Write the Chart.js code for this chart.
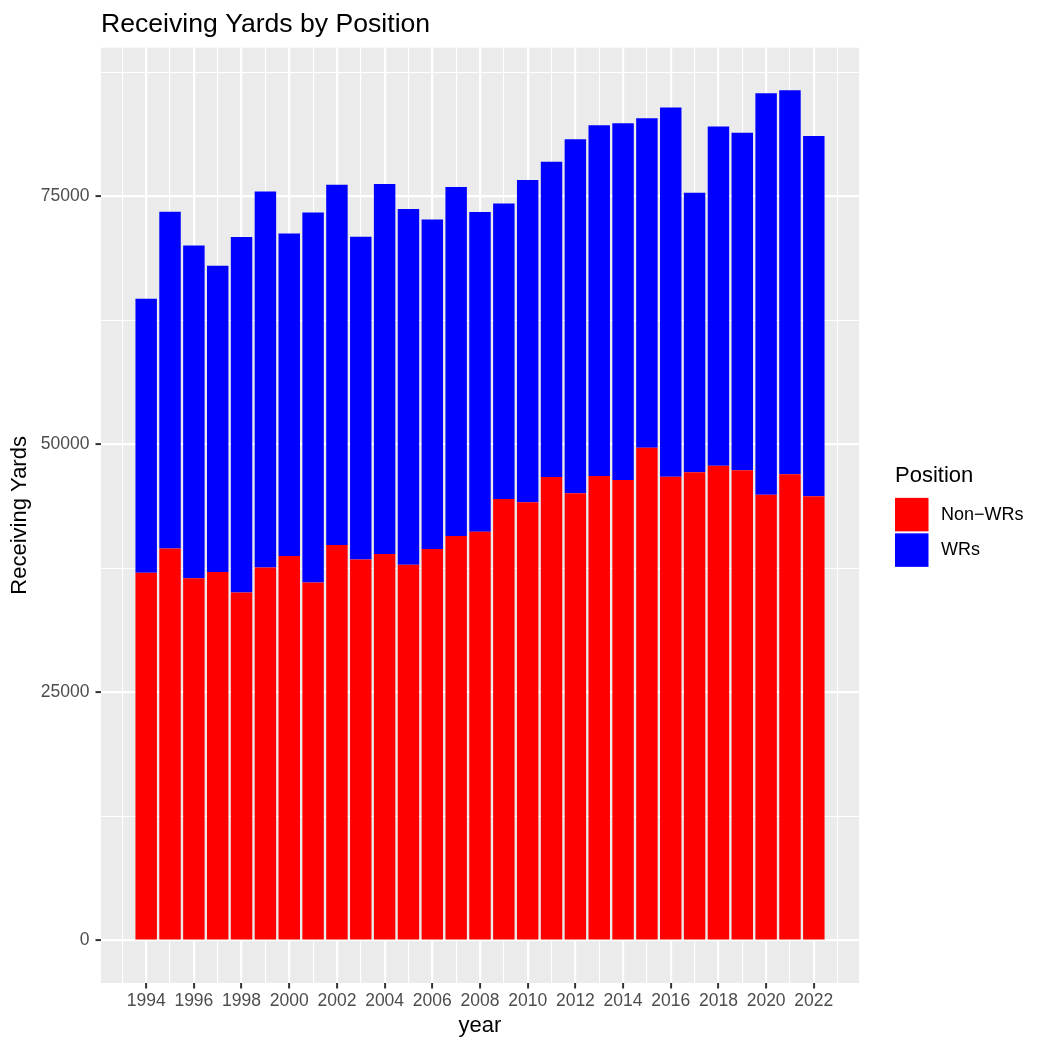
<!DOCTYPE html>
<html>
<head>
<meta charset="utf-8">
<title>Receiving Yards by Position</title>
<script src="https://cdn.jsdelivr.net/npm/chart.js@4.4.1/dist/chart.umd.min.js"></script>
<style>
    html, body { margin: 0; padding: 0; background: #FFFFFF; }
    #wrap { width: 1050px; height: 1050px; }
</style>
</head>
<body>
<div id="wrap"><canvas id="chart" width="1050" height="1050"></canvas></div>
<script>
/* Receiving yards by position, stacked per season (ggplot look) */

var YEARS = [1994, 1995, 1996, 1997, 1998, 1999, 2000, 2001, 2002, 2003,
             2004, 2005, 2006, 2007, 2008, 2009, 2010, 2011, 2012, 2013,
             2014, 2015, 2016, 2017, 2018, 2019, 2020, 2021, 2022];

var NON_WR_YARDS = [37060, 39520, 36500, 37130, 35080, 37600, 38750, 36090, 39860, 38410,
                    38950, 37870, 39450, 40760, 41200, 44500, 44160, 46720, 45070, 46820,
                    46410, 49670, 46750, 47190, 47860, 47390, 44930, 46990, 44770];

var WR_YARDS = [27630, 33940, 33560, 30880, 35820, 37900, 32520, 37290, 36300, 32520,
                37300, 35860, 33230, 35180, 32230, 29770, 32490, 31780, 35680, 35350,
                35950, 33200, 37200, 28180, 34180, 34030, 40460, 38710, 36320];

var SERIES_LABELS = ['Non\u2212WRs', 'WRs'];
var SERIES_COLORS = ['#FF0000', '#0000FF'];

// labelled breaks and the unlabelled minor breaks between them
var X_BREAKS = [1994, 1996, 1998, 2000, 2002, 2004, 2006, 2008, 2010, 2012,
                2014, 2016, 2018, 2020, 2022];
var X_MINOR_BREAKS = [1993, 1995, 1997, 1999, 2001, 2003, 2005, 2007, 2009, 2011,
                      2013, 2015, 2017, 2019, 2021, 2023];
var Y_BREAKS = [0, 25000, 50000, 75000];
var Y_MINOR_BREAKS = [12500, 37500, 62500, 87500];

var FONT = "'Liberation Sans', Arial, Helvetica, sans-serif";

// ggplot style limits: bar width 0.9, 5% expansion on both axes
var maxTotal = Math.max.apply(null, YEARS.map(function(y, i) { return NON_WR_YARDS[i] + WR_YARDS[i]; }));
var xLo = YEARS[0] - 0.45, xHi = YEARS[YEARS.length - 1] + 0.45;
var xPad = (xHi - xLo) * 0.05;
var yPad = maxTotal * 0.05;

function isMajor(list, v) { return list.indexOf(v) >= 0; }

// stepSize on big ranges snaps to min/max in v4, so hand the breaks over directly
function setTicks(major, minor) {
    return function(scale) {
        scale.ticks = major.concat(minor)
            .filter(function(v) { return v >= scale.min && v <= scale.max; })
            .sort(function(a, b) { return a - b; })
            .map(function(v) { return { value: v }; });
    };
}

var panelBg = {
    id: 'panelBg',
    beforeDraw: function(chart) {
        var a = chart.chartArea, ctx = chart.ctx;
        ctx.save();
        ctx.fillStyle = '#EBEBEB';
        ctx.fillRect(a.left, a.top, a.right - a.left, a.bottom - a.top);
        ctx.restore();
    }
};

var plotTitle = {
    id: 'plotTitle',
    afterDraw: function(chart) {
        var ctx = chart.ctx;
        ctx.save();
        ctx.font = '26.6px ' + FONT;
        ctx.fillStyle = '#000000';
        ctx.textBaseline = 'alphabetic';
        ctx.textAlign = 'left';
        ctx.fillText('Receiving Yards by Position', chart.chartArea.left, 31.7);
        ctx.restore();
    }
};

var sideLegend = {
    id: 'sideLegend',
    afterDraw: function(chart) {
        var ctx = chart.ctx, a = chart.chartArea;
        var left = a.right + 36;
        var keyTop = (a.top + a.bottom) / 2 - 17.5;
        var key = 33.5, step = 35.5;
        ctx.save();
        ctx.fillStyle = '#000000';
        ctx.textAlign = 'left';
        ctx.textBaseline = 'alphabetic';
        ctx.font = '22px ' + FONT;
        ctx.fillText('Position', left, keyTop - 16);
        ctx.font = '18px ' + FONT;
        ctx.textBaseline = 'middle';
        chart.data.datasets.forEach(function(ds, i) {
            var top = keyTop + i * step;
            ctx.fillStyle = ds.backgroundColor;
            ctx.fillRect(left, top, key, key);
            ctx.fillStyle = '#000000';
            ctx.fillText(ds.label, left + 46, top + key / 2);
        });
        ctx.restore();
    }
};

function buildSeries(values) {
    return YEARS.map(function(yr, i) { return { x: yr, y: values[i] }; });
}

new Chart(document.getElementById('chart'), {
    type: 'bar',
    data: {
        datasets: [
            { label: SERIES_LABELS[0], data: buildSeries(NON_WR_YARDS), backgroundColor: SERIES_COLORS[0],
              borderWidth: 0, barPercentage: 0.9, categoryPercentage: 1.0 },
            { label: SERIES_LABELS[1], data: buildSeries(WR_YARDS), backgroundColor: SERIES_COLORS[1],
              borderWidth: 0, barPercentage: 0.9, categoryPercentage: 1.0 }
        ]
    },
    plugins: [panelBg, plotTitle, sideLegend],
    options: {
        responsive: false,
        animation: false,
        devicePixelRatio: 1,
        layout: { padding: { top: 47.7, right: 191, bottom: 0, left: 0 } },
        plugins: {
            legend: { display: false },
            title: { display: false },
            tooltip: { enabled: false }
        },
        scales: {
            x: {
                type: 'linear',
                stacked: true,
                offset: false,
                min: xLo - xPad,
                max: xHi + xPad,
                border: { display: false },
                afterBuildTicks: setTicks(X_BREAKS, X_MINOR_BREAKS),
                grid: {
                    offset: false,
                    color: '#FFFFFF',
                    lineWidth: function(c) { return c.tick && isMajor(X_BREAKS, c.tick.value) ? 2.2 : 1.1; },
                    drawTicks: true,
                    tickLength: 5.5,
                    tickWidth: 2,
                    tickColor: function(c) { return c.tick && isMajor(X_BREAKS, c.tick.value) ? '#333333' : 'rgba(0,0,0,0)'; }
                },
                ticks: {
                    autoSkip: false,
                    maxRotation: 0,
                    minRotation: 0,
                    padding: 2,
                    color: '#4D4D4D',
                    font: { family: FONT, size: 17.5 },
                    callback: function(v) { return isMajor(X_BREAKS, v) ? String(v) : ''; }
                },
                title: {
                    display: true,
                    text: 'year',
                    color: '#000000',
                    font: { family: FONT, size: 22 },
                    padding: { top: 0, bottom: 11 }
                },
                afterFit: function(s) { s.height = 67; }
            },
            y: {
                type: 'linear',
                stacked: true,
                min: -yPad,
                max: maxTotal + yPad,
                border: { display: false },
                afterBuildTicks: setTicks(Y_BREAKS, Y_MINOR_BREAKS),
                grid: {
                    color: '#FFFFFF',
                    lineWidth: function(c) { return c.tick && isMajor(Y_BREAKS, c.tick.value) ? 2.2 : 1.1; },
                    drawTicks: true,
                    tickLength: 5.5,
                    tickWidth: 2,
                    tickColor: function(c) { return c.tick && isMajor(Y_BREAKS, c.tick.value) ? '#333333' : 'rgba(0,0,0,0)'; }
                },
                ticks: {
                    autoSkip: false,
                    padding: 6,
                    color: '#4D4D4D',
                    font: { family: FONT, size: 17.5 },
                    callback: function(v) { return isMajor(Y_BREAKS, v) ? String(v) : ''; }
                },
                title: {
                    display: true,
                    text: 'Receiving Yards',
                    color: '#000000',
                    font: { family: FONT, size: 22 },
                    padding: { top: 6.7, bottom: 0 }
                },
                afterFit: function(s) { s.width = 101; }
            }
        }
    }
});
</script>
</body>
</html>
